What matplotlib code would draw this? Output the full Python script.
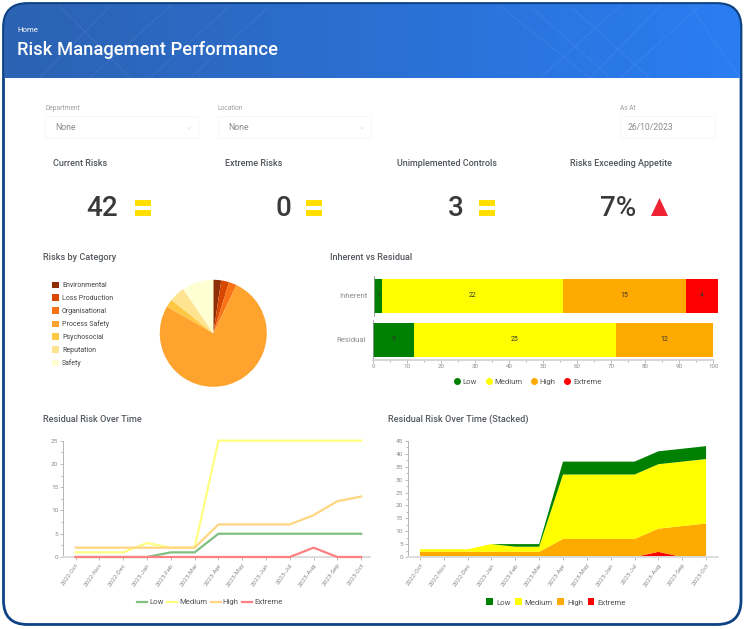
import numpy as np
import matplotlib
matplotlib.use("Agg")
from matplotlib import pyplot as plt
from matplotlib.patches import FancyBboxPatch, Rectangle, Polygon
from matplotlib.lines import Line2D

plt.rcParams['font.family'] = ['Roboto', 'DejaVu Sans']

W, H = 745, 629

# data
categories = ['Environmental', 'Loss Production', 'Organisational', 'Process Safety',
              'Psychosocial', 'Reputation', 'Safety']
category_counts = [1, 1, 1, 32, 1, 2, 4]
category_colors = ['#8f2d04', '#d94801', '#f97316', '#fea32e', '#fec844', '#fee391', '#ffffd4']

levels = ['Low', 'Medium', 'High', 'Extreme']
inherent = [1, 22, 15, 4]
residual = [5, 25, 12, 0]
level_colors = ['#008000', '#ffff00', '#ffaa00', '#ff0000']
line_colors = ['#80c080', '#ffff80', '#ffd580', '#ff8080']

months = ['2022-Oct', '2022-Nov', '2022-Dec', '2023-Jan', '2023-Feb', '2023-Mar', '2023-Apr',
          '2023-May', '2023-Jun', '2023-Jul', '2023-Aug', '2023-Sep', '2023-Oct']
low = [0, 0, 0, 0, 1, 1, 5, 5, 5, 5, 5, 5, 5]
medium = [1, 1, 1, 3, 2, 2, 25, 25, 25, 25, 25, 25, 25]
high = [2, 2, 2, 2, 2, 2, 7, 7, 7, 7, 9, 12, 13]
extreme = [0, 0, 0, 0, 0, 0, 0, 0, 0, 0, 2, 0, 0]

kpi_titles = ['Current Risks', 'Extreme Risks', 'Unimplemented Controls', 'Risks Exceeding Appetite']
kpi_values = ['42', '0', '3', '7%']

TITLE = '#555a60'
GREY = '#8c8c8c'


def px_axes(left, top, right, bottom, **kw):
    # axes placed by pixel box of the reference
    return fig.add_axes([left / W, 1 - bottom / H, (right - left) / W, (bottom - top) / H], **kw)


def fx(x, y):
    return (x / W, 1 - y / H)


fig = plt.figure(figsize=(W / 100, H / 100), dpi=100, facecolor='white')

# page background, drawn in pixel coords
bg = fig.add_axes([0, 0, 1, 1])
bg.set_xlim(0, W)
bg.set_ylim(H, 0)
bg.axis('off')

card = FancyBboxPatch((3.5, 3.5), 737.5, 621, boxstyle='round,pad=0,rounding_size=24',
                      fc='white', ec='#0d4384', lw=2.0, zorder=5)
bg.add_patch(card)

grad = np.linspace(0, 1, 256).reshape(1, -1)
cmap = matplotlib.colors.LinearSegmentedColormap.from_list('hdr', ['#2c62b2', '#2a7df2'])
im = bg.imshow(grad, extent=[4, 741, 78, 4], cmap=cmap, aspect='auto', zorder=6)
clip = FancyBboxPatch((4.2, 4.2), 736, 619.6, boxstyle='round,pad=0,rounding_size=23.5',
                      transform=bg.transData, fc='none', ec='none')
bg.add_patch(clip)
im.set_clip_path(clip)
bg.set_xlim(0, W)
bg.set_ylim(H, 0)

# faint lines in the header
for x0, x1 in [(60, 130), (110, 40), (170, 90), (230, 150), (270, 190),
               (500, 590), (530, 610), (570, 650), (620, 540), (660, 590), (700, 620), (690, 740)]:
    ln, = bg.plot([x0, x1], [6, 78], color='#ffffff', alpha=0.06, lw=0.8, zorder=7)
    ln.set_clip_path(clip)
bg.text(17, 30, 'Home', color='white', fontsize=5.6, va='center', zorder=8)
bg.text(17, 50, 'Risk Management Performance', color='white', fontsize=13.2, va='center',
        fontweight='medium', zorder=8)

# filters
for x0, x1, label, val in [(45, 198, 'Department', 'None'), (218, 371, 'Location', 'None'),
                           (620, 715, 'As At', '26/10/2023')]:
    bg.text(x0, 108.5, label, color='#a0a0a0', fontsize=4.8, va='center', zorder=8)
    bg.text(x0 + 10 if val == 'None' else x0 + 8, 127.5, val, color='#8a8a8a', fontsize=6.2, va='center', zorder=8)
    bg.add_patch(Rectangle((x0, 116), x1 - x0, 22, fc='none', ec='#f6f6f6', lw=0.6, zorder=8))
for x0 in [187, 360]:
    bg.plot([x0, x0 + 2, x0 + 4], [127, 129, 127], color='#e2e2e2', lw=0.5, zorder=8)

# KPI row
kpi_x = [53, 225, 397, 570]
val_right = [118, 291, 464, 636]
mark_x = [135, 306, 479]
for x, t in zip(kpi_x, kpi_titles):
    bg.text(x, 164, t, color='#50555a', fontsize=6.5, fontweight='medium', va='center', zorder=8)
for x, v in zip(val_right, kpi_values):
    bg.text(x, 209, v, color='#3a3a3a', fontsize=20, fontweight='medium', ha='right', va='center', zorder=8)
for x in mark_x:
    bg.add_patch(Rectangle((x, 200), 16, 6, fc='#ffdf00', ec='none', zorder=8))
    bg.add_patch(Rectangle((x, 209.5), 16, 6, fc='#ffdf00', ec='none', zorder=8))
bg.add_patch(Polygon([(651, 216), (668, 216), (659.5, 198)], fc='#ee2233', ec='none', zorder=8))

# section titles
for x, y, t in [(43, 257, 'Risks by Category'), (330, 257, 'Inherent vs Residual'),
                (43, 419, 'Residual Risk Over Time'), (388, 419, 'Residual Risk Over Time (Stacked)')]:
    bg.text(x, y, t, color=TITLE, fontsize=6.6, fontweight='medium', va='center', zorder=8)

# pie
ax_pie = px_axes(159.8, 279.8, 266.8, 386.8)
wedges, _ = ax_pie.pie(category_counts, colors=category_colors, startangle=90, counterclock=False,
                       radius=1.0, wedgeprops={'linewidth': 0})
ax_pie.set_xlim(-1, 1)
ax_pie.set_ylim(-1, 1)
pie_handles = [Rectangle((0, 0), 1, 1, fc=c) for c in category_colors]
fig.legend(pie_handles, categories, loc='upper left', bbox_to_anchor=fx(52, 281.5), frameon=False,
           fontsize=5, labelcolor='#444444', handlelength=1.0, handleheight=1.0, handletextpad=0.45,
           labelspacing=0.78, borderpad=0, borderaxespad=0)

# bars, the inherent one sits a little wider in the reference so it gets its own axes
ax_inh = px_axes(374.3, 276, 718.3, 316)
ax_res = px_axes(373.3, 320, 713.3, 359.5)
for ax, vals, name in [(ax_inh, inherent, 'Inherent'), (ax_res, residual, 'Residual')]:
    total = sum(vals)
    left = 0
    for v, c in zip(vals, level_colors):
        pct = v / total * 100
        ax.barh([0], [pct], left=left, color=c, height=0.85, edgecolor=c if v == 0 else 'none', linewidth=0.5)
        if v > 0:
            ax.text(left + pct / 2, 0, str(v), ha='center', va='center', fontsize=5, color='#333333')
        left += pct
    ax.set_xlim(0, 100)
    ax.set_ylim(-0.5, 0.5)
    ax.set_yticks([0])
    ax.set_yticklabels([name], fontsize=5.6, color=GREY)
    ax.tick_params(axis='y', length=0, pad=5)
    for s in ['top', 'right']:
        ax.spines[s].set_visible(False)
    ax.spines['left'].set_color('#999999')
    ax.spines['left'].set_linewidth(0.6)
ax_inh.spines['bottom'].set_visible(False)
ax_inh.set_xticks([])
ax_res.spines['bottom'].set_color('#cfcfcf')
ax_res.spines['bottom'].set_linewidth(1.2)
ax_res.set_xticks(np.arange(0, 101, 10))
ax_res.set_xticks(np.arange(0, 101, 5), minor=True)
ax_res.tick_params(axis='x', labelsize=4.4, labelcolor=GREY, length=2, width=0.4, color='#888888', pad=1.5)
ax_res.tick_params(axis='x', which='minor', length=1.2, width=0.4, color='#888888')

bar_handles = [Line2D([], [], ls='none', marker='o', ms=4, color=c) for c in level_colors]
fig.legend(bar_handles, levels, loc='center', bbox_to_anchor=fx(527.5, 382), ncols=4, frameon=False,
           fontsize=5.6, labelcolor='#555555', handlelength=0.8, handletextpad=0.35, columnspacing=1.07, borderpad=0)


def style_time_axis(ax, ymax, ystep):
    ax.set_xticks(range(len(months)))
    ax.set_xticklabels(months, rotation=55, ha='right', rotation_mode='anchor', fontsize=4.6, color=GREY)
    ax.set_yticks(np.arange(0, ymax + 1, ystep))
    ax.set_yticks(np.arange(0, ymax + 1, ystep / 2), minor=True)
    ax.tick_params(axis='y', labelsize=4.6, labelcolor=GREY, length=2, width=0.4, color='#888888', pad=1.5)
    ax.tick_params(axis='y', which='minor', length=1.2, width=0.4, color='#888888')
    ax.tick_params(axis='x', length=2, width=0.4, color='#888888', pad=2)
    ax.set_ylim(0, ymax)
    for s in ['top', 'right']:
        ax.spines[s].set_visible(False)
    ax.spines['left'].set_color('#aaaaaa')
    ax.spines['left'].set_linewidth(0.6)
    ax.spines['bottom'].set_color('#dddddd')
    ax.spines['bottom'].set_linewidth(1.4)


# line chart
x = np.arange(len(months))
ax_line = px_axes(63.3, 440.7, 370, 557)
for vals, c, name in zip([low, medium, high, extreme], line_colors, levels):
    ax_line.plot(x, vals, color=c, lw=1.6, label=name, clip_on=False, zorder=3)
ax_line.set_xlim(-0.52, 12.37)
style_time_axis(ax_line, 25, 5)
h, l = ax_line.get_legend_handles_labels()
fig.legend(h, l, loc='center', bbox_to_anchor=fx(210, 602), ncols=4, frameon=False, fontsize=5.6,
           labelcolor='#555555', handlelength=1.28, handletextpad=0.26, columnspacing=0.45, borderpad=0)

# stacked area
ax_stack = px_axes(408, 441, 718, 557)
ax_stack.stackplot(x, extreme, high, medium, low,
                   colors=[level_colors[3], level_colors[2], level_colors[1], level_colors[0]])
ax_stack.set_xlim(-0.5, 12.5)
style_time_axis(ax_stack, 45, 5)
stack_handles = [Rectangle((0, 0), 1, 1, fc=c) for c in level_colors]
fig.legend(stack_handles, levels, loc='center', bbox_to_anchor=fx(556, 602), ncols=4, frameon=False,
           fontsize=5.6, labelcolor='#555555', handlelength=0.85, handleheight=1.0, handletextpad=0.39,
           columnspacing=0.58, borderpad=0)

plt.savefig('out.png', dpi=100)
